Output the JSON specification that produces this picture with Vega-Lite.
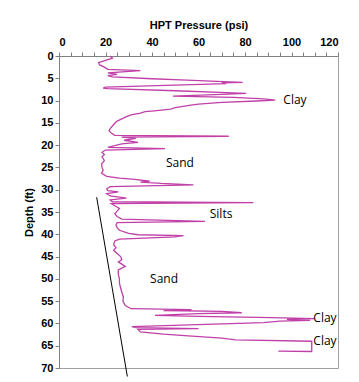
{
  "$schema": "https://vega.github.io/schema/vega-lite/v6.json",
  "autosize": "none",
  "width": 279,
  "height": 312,
  "padding": {"left": 59, "top": 56, "right": 21, "bottom": 14},
  "background": "white",
  "config": {
    "view": {"stroke": "#a0a0a0", "strokeWidth": 1},
    "axis": {
      "labelFont": "Liberation Sans", "labelFontSize": 11, "labelFontWeight": "bold", "labelColor": "#000",
      "titleFont": "Liberation Sans", "titleFontSize": 11, "titleFontWeight": "bold", "titleColor": "#000",
      "domainColor": "#808080", "tickColor": "#808080", "grid": false, "labelOverlap": false
    }
  },
  "datasets": {
    "hpt": [
      {"psi": 22, "depth": 0}, {"psi": 23, "depth": 0.5}, {"psi": 20, "depth": 1.0}, {"psi": 17, "depth": 1.5},
      {"psi": 17.5, "depth": 2.0}, {"psi": 19.5, "depth": 2.5}, {"psi": 21, "depth": 3.0}, {"psi": 35, "depth": 3.3},
      {"psi": 21, "depth": 3.8}, {"psi": 25, "depth": 4.1}, {"psi": 21, "depth": 4.4}, {"psi": 23, "depth": 4.7},
      {"psi": 40, "depth": 5.1}, {"psi": 55, "depth": 5.4}, {"psi": 68, "depth": 5.7}, {"psi": 79, "depth": 5.9},
      {"psi": 70, "depth": 6.05}, {"psi": 72, "depth": 6.2}, {"psi": 20, "depth": 7.0}, {"psi": 19, "depth": 7.2},
      {"psi": 21, "depth": 7.3}, {"psi": 50, "depth": 7.8}, {"psi": 72, "depth": 8.2}, {"psi": 80.5, "depth": 8.4},
      {"psi": 70, "depth": 8.6}, {"psi": 49, "depth": 9.0}, {"psi": 75, "depth": 9.3}, {"psi": 88, "depth": 9.6},
      {"psi": 93, "depth": 9.9}, {"psi": 85, "depth": 10.1}, {"psi": 70, "depth": 10.4}, {"psi": 60, "depth": 10.8},
      {"psi": 56, "depth": 11.1}, {"psi": 50, "depth": 11.6}, {"psi": 48, "depth": 11.9}, {"psi": 41, "depth": 12.3},
      {"psi": 37, "depth": 12.5}, {"psi": 35, "depth": 12.8}, {"psi": 31, "depth": 13.2}, {"psi": 29, "depth": 13.6},
      {"psi": 27, "depth": 14.1}, {"psi": 25, "depth": 14.6}, {"psi": 24, "depth": 15.1}, {"psi": 23, "depth": 15.7},
      {"psi": 22, "depth": 16.3}, {"psi": 21.5, "depth": 16.8}, {"psi": 22.5, "depth": 17.3}, {"psi": 24, "depth": 17.8},
      {"psi": 73, "depth": 18.0}, {"psi": 27, "depth": 18.2}, {"psi": 33, "depth": 18.5}, {"psi": 28, "depth": 18.9},
      {"psi": 34, "depth": 19.4}, {"psi": 27, "depth": 19.7}, {"psi": 24, "depth": 20.1}, {"psi": 21, "depth": 20.5},
      {"psi": 45.6, "depth": 20.8}, {"psi": 20, "depth": 21.1}, {"psi": 18.5, "depth": 21.6}, {"psi": 19.5, "depth": 22.1},
      {"psi": 18.5, "depth": 22.6}, {"psi": 19, "depth": 23.0}, {"psi": 19.5, "depth": 23.5}, {"psi": 18.3, "depth": 24.2},
      {"psi": 18.5, "depth": 25.0}, {"psi": 19, "depth": 25.6}, {"psi": 18.3, "depth": 26.3}, {"psi": 20.5, "depth": 27.0},
      {"psi": 26, "depth": 27.4}, {"psi": 32.7, "depth": 27.7}, {"psi": 39, "depth": 28.1}, {"psi": 35, "depth": 28.3},
      {"psi": 44, "depth": 28.6}, {"psi": 57.8, "depth": 28.9}, {"psi": 22, "depth": 29.3}, {"psi": 20.5, "depth": 29.8},
      {"psi": 21, "depth": 30.2}, {"psi": 25.5, "depth": 30.5}, {"psi": 20.5, "depth": 30.9}, {"psi": 22, "depth": 31.4},
      {"psi": 29, "depth": 31.9}, {"psi": 22, "depth": 32.3}, {"psi": 23, "depth": 32.7}, {"psi": 83.6, "depth": 32.9},
      {"psi": 22.5, "depth": 33.1}, {"psi": 24, "depth": 33.6}, {"psi": 26, "depth": 34.2}, {"psi": 25, "depth": 34.8},
      {"psi": 24, "depth": 35.4}, {"psi": 25, "depth": 36.0}, {"psi": 27, "depth": 36.6}, {"psi": 62.8, "depth": 37.1},
      {"psi": 25, "depth": 37.4}, {"psi": 24.5, "depth": 37.9}, {"psi": 25, "depth": 38.5}, {"psi": 26, "depth": 39.1},
      {"psi": 30, "depth": 39.8}, {"psi": 34, "depth": 40.1}, {"psi": 53.5, "depth": 40.3}, {"psi": 50, "depth": 40.6},
      {"psi": 26, "depth": 41.1}, {"psi": 24, "depth": 41.5}, {"psi": 23.5, "depth": 42.3}, {"psi": 24.5, "depth": 43.0},
      {"psi": 23.5, "depth": 43.6}, {"psi": 25, "depth": 44.3}, {"psi": 26.5, "depth": 45.0}, {"psi": 27, "depth": 45.7},
      {"psi": 25.5, "depth": 46.2}, {"psi": 27, "depth": 46.7}, {"psi": 28.5, "depth": 47.2}, {"psi": 25.5, "depth": 48.0},
      {"psi": 25.5, "depth": 49.0}, {"psi": 26, "depth": 50.0}, {"psi": 26, "depth": 51.0}, {"psi": 26.5, "depth": 52.0},
      {"psi": 27, "depth": 53.0}, {"psi": 27.7, "depth": 54.0}, {"psi": 27.5, "depth": 55.0}, {"psi": 28.5, "depth": 56.0},
      {"psi": 31, "depth": 56.7}, {"psi": 57, "depth": 56.9}, {"psi": 45, "depth": 57.1}, {"psi": 70, "depth": 57.3},
      {"psi": 78.6, "depth": 57.6}, {"psi": 60, "depth": 57.8}, {"psi": 41.3, "depth": 58.2}, {"psi": 60, "depth": 58.4},
      {"psi": 91.5, "depth": 58.7}, {"psi": 110, "depth": 58.9}, {"psi": 98, "depth": 59.1}, {"psi": 108, "depth": 59.3},
      {"psi": 95, "depth": 59.5}, {"psi": 88, "depth": 59.8}, {"psi": 31.3, "depth": 60.7}, {"psi": 33, "depth": 60.95},
      {"psi": 60, "depth": 61.15}, {"psi": 34, "depth": 61.35}, {"psi": 35, "depth": 61.9}, {"psi": 45, "depth": 62.4},
      {"psi": 55.6, "depth": 62.8}, {"psi": 70, "depth": 63.3}, {"psi": 76, "depth": 63.7}, {"psi": 108.7, "depth": 64.0},
      {"psi": 108.7, "depth": 66.3}, {"psi": 94.3, "depth": 66.2}
    ],
    "labels": [
      {"text": "Clay", "psi": 101.5, "depth": 9.9},
      {"text": "Sand", "psi": 52, "depth": 24.0},
      {"text": "Silts", "psi": 69.7, "depth": 35.5},
      {"text": "Sand", "psi": 45.2, "depth": 50.0},
      {"text": "Clay", "psi": 114.4, "depth": 58.8},
      {"text": "Clay", "psi": 114.4, "depth": 63.9}
    ],
    "trend": [
      {"psi": 16.2, "depth": 31.7},
      {"psi": 29.4, "depth": 71.9}
    ]
  },
  "encoding": {
    "x": {
      "field": "psi", "type": "quantitative",
      "scale": {"domain": [0, 120], "nice": false},
      "axis": {
        "orient": "top", "title": "HPT Pressure (psi)",
        "values": [0,5,10,15,20,25,30,35,40,45,50,55,60,65,70,75,80,85,90,95,100,105,110,115,120],
        "labelExpr": "datum.value % 20 === 0 ? datum.label : ''",
        "tickSize": 4, "labelPadding": 5, "titlePadding": 6
      }
    },
    "y": {
      "field": "depth", "type": "quantitative",
      "scale": {"domain": [0, 70], "nice": false, "reverse": true},
      "axis": {
        "title": "Depth (ft)",
        "values": [0,5,10,15,20,25,30,35,40,45,50,55,60,65,70],
        "tickSize": 4, "labelPadding": 2, "titlePadding": 6
      }
    }
  },
  "layer": [
    {
      "data": {"name": "trend"},
      "mark": {"type": "line", "color": "#000000", "strokeWidth": 1, "clip": false},
      "encoding": {
        "order": {"field": "depth", "type": "quantitative"}
      }
    },
    {
      "data": {"name": "hpt"},
      "mark": {"type": "line", "color": "#c040a8", "strokeWidth": 1.3},
      "encoding": {
        "order": {"value": null}
      }
    },
    {
      "data": {"name": "labels"},
      "mark": {"type": "text", "font": "Open Sans", "fontSize": 12, "color": "#000", "align": "center", "baseline": "middle"},
      "encoding": {
        "text": {"field": "text"}
      }
    }
  ]
}
